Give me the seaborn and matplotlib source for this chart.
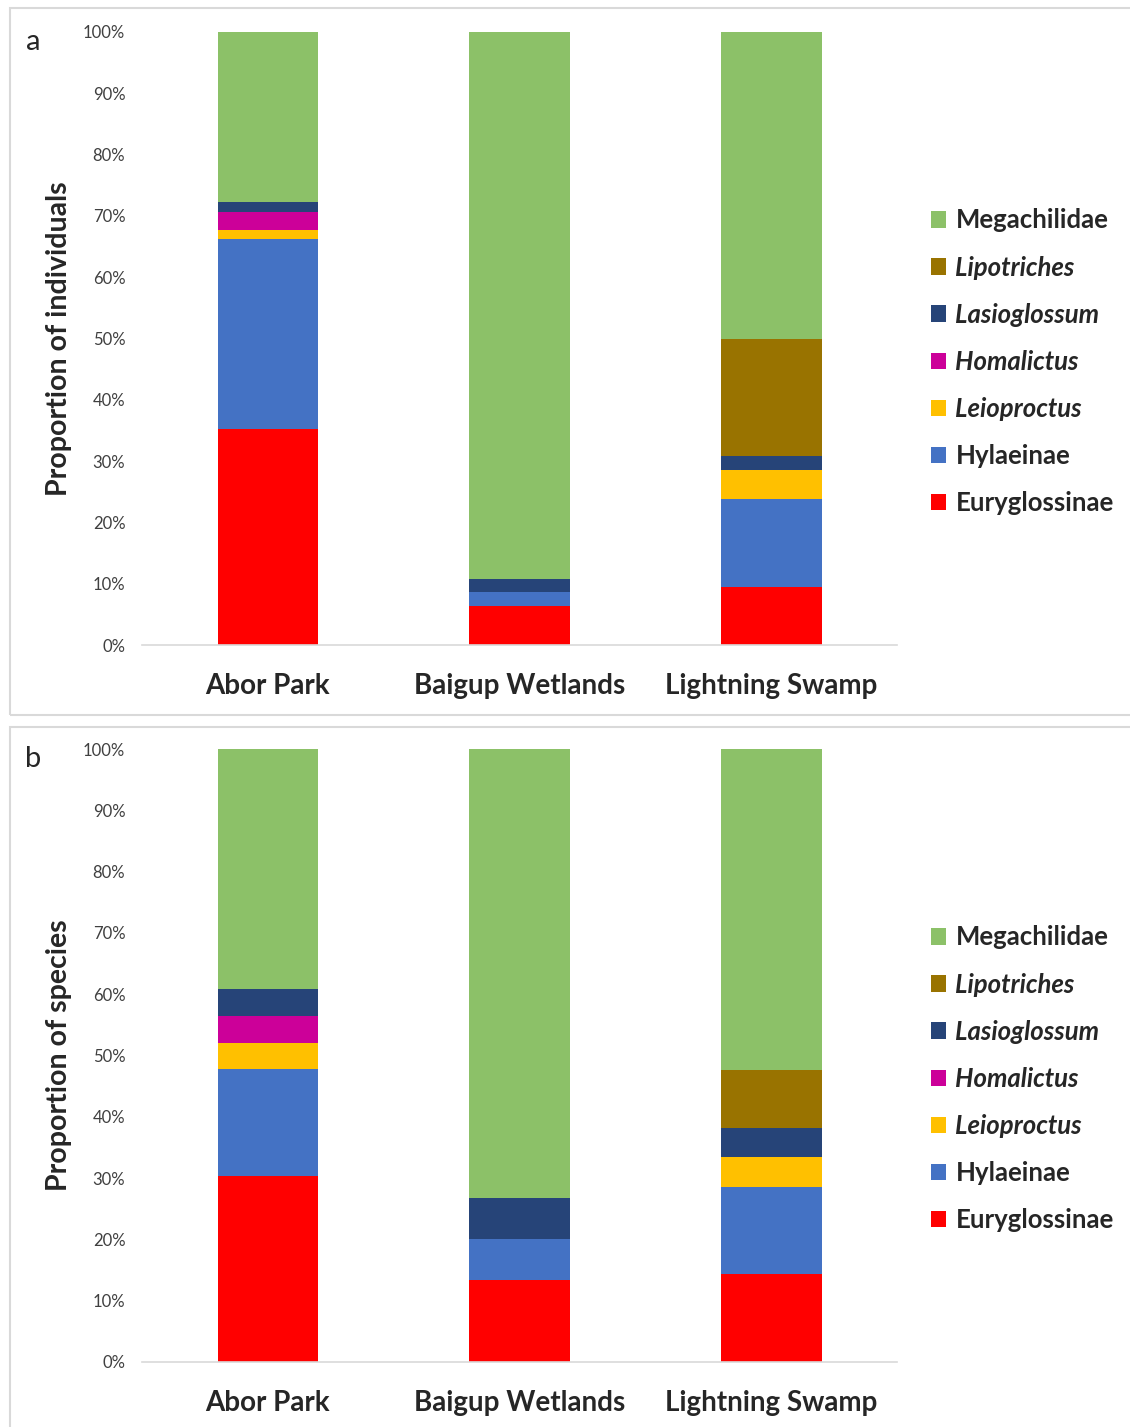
import numpy as np
import pandas as pd
import matplotlib.pyplot as plt
import seaborn as sns
from matplotlib.patches import Rectangle, Patch

# Data (percent of total per site)
sites = ['Abor Park', 'Baigup Wetlands', 'Lightning Swamp']
groups = ['Euryglossinae', 'Hylaeinae', 'Leioproctus', 'Homalictus',
          'Lasioglossum', 'Lipotriches', 'Megachilidae']
italic_groups = ['Leioproctus', 'Homalictus', 'Lasioglossum', 'Lipotriches']

eury_ind = [35.3, 6.4, 9.4]
hyl_ind = [30.9, 2.2, 14.4]
leio_ind = [1.5, 0.0, 4.7]
homal_ind = [3.0, 0.0, 0.0]
lasio_ind = [1.6, 2.2, 2.4]
lipo_ind = [0.0, 0.0, 19.1]
mega_ind = [27.7, 89.2, 50.0]

eury_sp = [30.4, 13.3, 14.3]
hyl_sp = [17.4, 6.7, 14.3]
leio_sp = [4.3, 0.0, 4.8]
homal_sp = [4.3, 0.0, 0.0]
lasio_sp = [4.4, 6.7, 4.8]
lipo_sp = [0.0, 0.0, 9.5]
mega_sp = [39.2, 73.3, 52.3]

colors = ['#FF0000', '#4472C4', '#FFC000', '#CC0099',
          '#264478', '#997300', '#8CC168']

individuals = pd.DataFrame(
    [eury_ind, hyl_ind, leio_ind, homal_ind, lasio_ind, lipo_ind, mega_ind],
    index=groups, columns=sites)
species = pd.DataFrame(
    [eury_sp, hyl_sp, leio_sp, homal_sp, lasio_sp, lipo_sp, mega_sp],
    index=groups, columns=sites)

sns.set_style("white")
plt.rcParams['font.family'] = ['Lato', 'DejaVu Sans']

fig = plt.figure(figsize=(11.3, 14.27), dpi=100)

# panel frames
for y0, h in [(1 - 715 / 1427, 707 / 1427), (-0.01, 700 / 1427 + 0.01)]:
    fig.patches.append(Rectangle((10 / 1130, y0), 1.0, h, transform=fig.transFigure,
                                 fill=False, edgecolor='#d9d9d9', linewidth=1.5))

panels = [
    (individuals, 'Proportion of individuals', 'a', 1 - 645 / 1427),
    (species, 'Proportion of species', 'b', 1 - 1362 / 1427),
]

for df, ylabel, letter, bottom_frac in panels:
    ax = fig.add_axes([142 / 1130, bottom_frac, 755 / 1130, 613 / 1427])
    base = np.zeros(len(sites))
    for grp, col in zip(groups, colors):
        vals = df.loc[grp].values / 100
        sns.barplot(x=sites, y=vals, bottom=base, color=col, saturation=1,
                    width=0.4, linewidth=0, ax=ax)
        base = base + vals

    ax.set_xlim(-0.5, 2.5)
    ax.set_ylim(0, 1)
    ax.set_yticks(np.arange(0, 1.01, 0.1))
    ax.set_yticklabels([f"{int(round(t * 100))}%" for t in np.arange(0, 1.01, 0.1)],
                       fontsize=12, color='#404040')
    ax.tick_params(axis='y', length=0, pad=12)
    ax.tick_params(axis='x', length=0, pad=20)
    for lab in ax.get_xticklabels():
        lab.set_fontsize(20)
        lab.set_fontweight('bold')
    ax.set_xlabel('')
    ax.set_ylabel(ylabel, fontsize=20.5, fontweight='bold', labelpad=8)
    for s in ['top', 'right', 'left']:
        ax.spines[s].set_visible(False)
    ax.spines['bottom'].set_color('#d9d9d9')
    ax.spines['bottom'].set_linewidth(1.2)

    handles = [Patch(facecolor=c, edgecolor='none') for c in colors][::-1]
    leg = ax.legend(handles, groups[::-1], loc='center left',
                    bbox_to_anchor=(1.045, 0.462), frameon=False,
                    prop={'size': 18.5, 'weight': 'bold'},
                    handlelength=0.6, handleheight=0.6, handletextpad=0.35,
                    labelspacing=0.9, borderpad=0, borderaxespad=0)
    for txt in leg.get_texts():
        if txt.get_text() in italic_groups:
            txt.set_fontstyle('italic')

    fig.text(33 / 1130, bottom_frac + (613 + 10) / 1427 - 0.005, letter,
             fontsize=21, va='top', ha='center')

fig.savefig('out.png', dpi=100)
